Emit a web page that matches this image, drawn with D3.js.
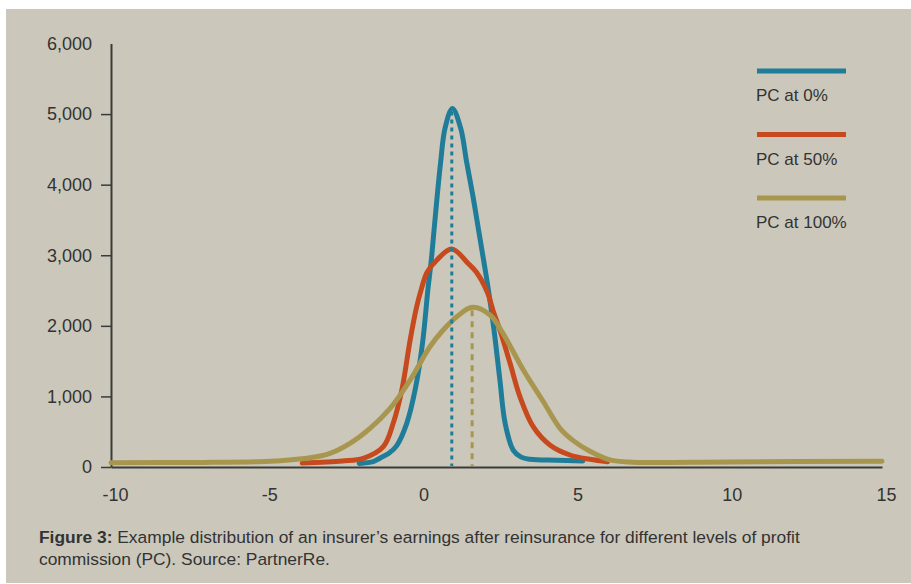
<!DOCTYPE html>
<html>
<head>
<meta charset="utf-8">
<script src="https://cdn.jsdelivr.net/npm/d3@7"></script>
<style>
  html, body { margin: 0; padding: 0; background: #ffffff; }
  svg { display: block; }
  text { font-family: "Liberation Sans", Arial, Helvetica, sans-serif; fill: #333; }
</style>
</head>
<body>
<script>
// ---------- data ----------
const seriesNames = ["PC at 0%", "PC at 50%", "PC at 100%"];
const seriesColors = ["#1f7d99", "#c64a1d", "#a8964f"];

const pc0 = [
  [-1.95, 50], [-1.5, 75], [-1.28, 125], [-1.0, 190], [-0.74, 300], [-0.41, 619],
  [-0.14, 1090], [0.1, 1750], [0.28, 2531], [0.38, 2908], [0.48, 3381], [0.58, 3853],
  [0.69, 4324], [0.83, 4797], [1.07, 5080], [1.34, 4797], [1.53, 4324], [1.73, 3853],
  [1.91, 3381], [2.09, 2908], [2.23, 2531], [2.42, 1940], [2.61, 1232], [2.78, 619],
  [3.04, 240], [3.3, 140], [3.59, 109], [4.45, 95], [5.3, 85]
];
const pc50 = [
  [-3.8, 55], [-2.5, 85], [-1.82, 123], [-1.17, 288], [-0.85, 619], [-0.57, 1090],
  [-0.3, 1800], [-0.1, 2250], [0.07, 2531], [0.25, 2760], [0.56, 2930], [1.05, 3090],
  [1.59, 2880], [1.85, 2760], [2.2, 2480], [2.4, 2200], [2.61, 1940], [2.94, 1469],
  [3.26, 996], [3.69, 571], [4.23, 312], [4.88, 170], [5.53, 109], [6.1, 75]
];
const pc100 = [
  [-10, 60], [-7, 65], [-5.2, 75], [-4.5, 90], [-3.55, 130], [-2.9, 194], [-2.25, 336],
  [-1.6, 548], [-0.95, 831], [-0.3, 1232], [0.34, 1704], [0.75, 1930], [1.21, 2129],
  [1.72, 2262], [2.29, 2153], [2.7, 1900], [3.37, 1374], [4.02, 925], [4.56, 548],
  [5.0, 370], [5.5, 230], [6.18, 100], [6.93, 68], [10, 72], [15, 82]
];
const peakMarkers = [[1.05, 5080, 0], [1.71, 2262, 2]]; // x, top value, series index

const yTicks = [0, 1000, 2000, 3000, 4000, 5000, 6000];
const xTicks = [-10, -5, 0, 5, 10, 15];
const captionBold = "Figure 3:";
const captionLine1 = " Example distribution of an insurer’s earnings after reinsurance for different levels of profit";
const captionLine2 = "commission (PC). Source: PartnerRe.";

// ---------- layout ----------
const W = 911, H = 584;
const svg = d3.select("body").append("svg").attr("width", W).attr("height", H);

svg.append("rect").attr("x", 6).attr("y", 9).attr("width", W - 6).attr("height", 574).attr("fill", "#cbc8bb");

const x = d3.scaleLinear().domain([-10, 15]).range([111, 882]);
const y = d3.scaleLinear().domain([0, 6000]).range([467, 43.5]);

// y axis
const yAxis = d3.axisLeft(y).tickValues(yTicks).tickSize(10).tickSizeOuter(0).tickPadding(9)
  .tickFormat(d3.format(","));
const yg = svg.append("g").attr("transform", `translate(${x(-10)},0)`).call(yAxis);
yg.select(".domain").attr("stroke", "#3a3a3a").attr("stroke-width", 2);
yg.selectAll(".tick line").attr("stroke", "#3a3a3a").attr("stroke-width", 1.5)
  .filter(d => d === 6000).remove();
yg.selectAll(".tick text").attr("font-size", 18).attr("fill", "#333")
  .style("font-family", "Liberation Sans, Arial, sans-serif");

// x axis
const xAxis = d3.axisBottom(x).tickValues(xTicks).tickSize(0).tickSizeOuter(0).tickPadding(21)
  .tickFormat(d => String(d));
const xg = svg.append("g").attr("transform", `translate(0,${y(0)})`).call(xAxis);
xg.select(".domain").attr("stroke", "#3a3a3a").attr("stroke-width", 2);
xg.selectAll(".tick text").attr("font-size", 18).attr("fill", "#333").attr("dx", 4)
  .style("font-family", "Liberation Sans, Arial, sans-serif");

// curves
const line = d3.line().x(d => x(d[0])).y(d => y(d[1])).curve(d3.curveCatmullRom.alpha(0.5));
[pc0, pc50, pc100].forEach((s, i) => {
  svg.append("path").datum(s).attr("d", line).attr("fill", "none")
    .attr("stroke", seriesColors[i]).attr("stroke-width", 5)
    .attr("stroke-linecap", "round").attr("stroke-linejoin", "round");
});

// peak markers
peakMarkers.forEach(([px, top, si]) => {
  svg.append("line").attr("x1", x(px)).attr("x2", x(px)).attr("y1", y(top) + 3).attr("y2", y(0) - 1)
    .attr("stroke", seriesColors[si]).attr("stroke-width", 3)
    .attr("stroke-dasharray", si === 0 ? "4,4" : "6,5");
});

// legend
const legend = svg.append("g");
seriesNames.forEach((name, i) => {
  const ly = 71 + i * 63.5;
  legend.append("line").attr("x1", 757).attr("x2", 846).attr("y1", ly).attr("y2", ly)
    .attr("stroke", seriesColors[i]).attr("stroke-width", 5);
  legend.append("text").attr("x", 756).attr("y", ly + 30).attr("font-size", 17).text(name);
});

// caption
const cap = svg.append("text").attr("x", 39).attr("y", 543).attr("font-size", 17.4);
cap.append("tspan").attr("font-weight", "bold").text(captionBold);
cap.append("tspan").text(captionLine1);
svg.append("text").attr("x", 39).attr("y", 565).attr("font-size", 17.4).text(captionLine2);
</script>
</body>
</html>
